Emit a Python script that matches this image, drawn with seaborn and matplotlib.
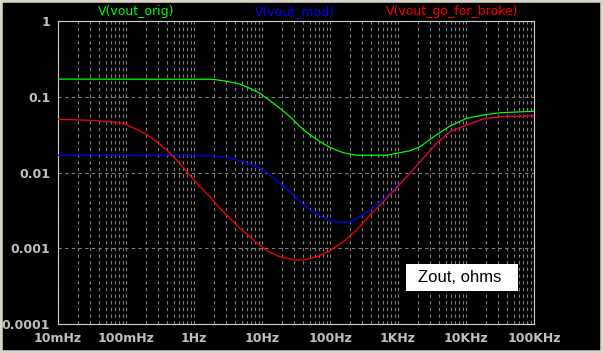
import numpy as np
import pandas as pd
import seaborn as sns
import matplotlib
matplotlib.use("Agg")
from matplotlib import pyplot as plt
from matplotlib import patches
from matplotlib.ticker import LogLocator, FixedLocator, FixedFormatter, NullFormatter

# values (frequency in Hz, impedance in ohms)
freq_orig = [0.01, 1.9, 3.03, 4.75, 6.67, 9.35, 13.1, 18.4, 25.8, 36.2, 50.8, 71.3, 100, 157, 247,
             682, 957, 1500, 2110, 3300, 5820, 10240, 17950, 31600, 100000]
zout_orig = [0.171, 0.170, 0.160, 0.147, 0.129, 0.111, 0.0887, 0.0704, 0.0546, 0.0403, 0.0313, 0.0255,
             0.0214, 0.0182, 0.0169, 0.0169, 0.0179, 0.0194, 0.0219, 0.0294, 0.0411, 0.0519, 0.0574,
             0.0615, 0.0643]

freq_mod = [0.01, 1.9, 3.03, 4.25, 6.67, 9.35, 13.1, 18.4, 25.8, 36.2, 50.8, 71.3, 100, 140, 197, 276,
            388, 608, 957, 1500, 2355, 3700, 5820, 10240, 17800, 31600, 100000]
zout_mod = [0.0169, 0.0166, 0.0159, 0.0146, 0.0130, 0.0114, 0.00927, 0.0072, 0.00557, 0.00411, 0.0032,
            0.00267, 0.00229, 0.0022, 0.00222, 0.00261, 0.0032, 0.00443, 0.0065, 0.00985, 0.0155,
            0.0244, 0.0347, 0.0425, 0.0510, 0.0550, 0.0566]

freq_gfb = [0.01, 0.0296, 0.0617, 0.091, 0.1435, 0.201, 0.282, 0.397, 0.557, 0.782, 1.097, 1.72, 2.41,
            3.03, 4.75, 7.45, 11.7, 18.4, 30.6, 40.5, 63.7, 100, 157, 247, 388, 608, 957, 1500, 2355,
            3700, 5820, 10240, 17800, 31600, 100000]
zout_gfb = [0.0504, 0.0489, 0.0464, 0.0447, 0.0372, 0.0319, 0.0255, 0.0198, 0.0146, 0.01025, 0.0072,
            0.00479, 0.00336, 0.00275, 0.00183, 0.00129, 0.00093, 0.00077, 0.0007, 0.0007, 0.00077,
            0.00093, 0.00122, 0.00174, 0.00275, 0.00411, 0.0063, 0.00975, 0.0154, 0.0243, 0.0346,
            0.0424, 0.0508, 0.0546, 0.0562]

series = ['V(vout_orig)', 'V(vout_mod)', 'V(vout_go_for_broke)']
colors = ['#00ff00', '#0000ff', '#ff0000']

x_ticks = [0.01, 0.1, 1, 10, 100, 1000, 10000, 100000]
x_labels = ['10mHz', '100mHz', '1Hz', '10Hz', '100Hz', '1KHz', '10KHz', '100KHz']
y_ticks = [0.0001, 0.001, 0.01, 0.1, 1]
y_labels = ['0.0001', '0.001', '0.01', '0.1', '1']

df = pd.concat([
    pd.DataFrame({'freq': freq_orig, 'zout': zout_orig, 'trace': series[0]}),
    pd.DataFrame({'freq': freq_mod, 'zout': zout_mod, 'trace': series[1]}),
    pd.DataFrame({'freq': freq_gfb, 'zout': zout_gfb, 'trace': series[2]}),
])

sns.set_style("dark")
grey = '#c0c0c0'

fig = plt.figure(figsize=(6.03, 3.53), dpi=100)
fig.patch.set_facecolor('black')
ax = fig.add_axes([58 / 603, 29 / 353, 476 / 603, 303 / 353])
ax.set_facecolor('black')

sns.lineplot(data=df, x='freq', y='zout', hue='trace', hue_order=series,
             palette=dict(zip(series, colors)), estimator=None, sort=True,
             linewidth=0.9, legend=False, ax=ax, zorder=3)

ax.set_xscale('log')
ax.set_yscale('log')
ax.set_xlim(0.01, 100000)
ax.set_ylim(0.0001, 1)

ax.xaxis.set_major_locator(FixedLocator(x_ticks))
ax.xaxis.set_major_formatter(FixedFormatter(x_labels))
ax.xaxis.set_minor_locator(LogLocator(base=10, subs=np.arange(2, 10), numticks=20))
ax.xaxis.set_minor_formatter(NullFormatter())
ax.yaxis.set_major_locator(FixedLocator(y_ticks))
ax.yaxis.set_major_formatter(FixedFormatter(y_labels))
ax.yaxis.set_minor_locator(LogLocator(base=10, subs=np.arange(2, 10), numticks=20))
ax.yaxis.set_minor_formatter(NullFormatter())

ax.grid(False)
dash = (0, (3, 3))
ax.grid(True, which='both', axis='x', color='#808080', linestyle=dash, linewidth=0.8, zorder=1)
ax.grid(True, which='major', axis='y', color='#808080', linestyle=dash, linewidth=0.8, zorder=1)

for s in ax.spines.values():
    s.set_visible(True)
    s.set_color('#d0d0d0')
    s.set_linewidth(0.8)

ax.tick_params(which='major', direction='out', length=4, width=0.8, color=grey,
               labelcolor=grey, labelsize=9, pad=1.5)
ax.tick_params(which='minor', direction='inout', length=3, width=0.7, color=grey)
for lab in ax.get_xticklabels() + ax.get_yticklabels():
    lab.set_fontweight('bold')
ax.set_xlabel('')
ax.set_ylabel('')

# trace names across the top
for name, c, xp in zip(series, colors, [136, 295, 452]):
    fig.text(xp / 603, 1 - 12 / 353, name, color=c, fontsize=9, ha='center', va='center')

# white note box
fig.patches.append(patches.Rectangle((406 / 603, 1 - 291 / 353), 112 / 603, 27 / 353,
                                     transform=fig.transFigure, facecolor='white',
                                     edgecolor='none', zorder=5))
fig.text(460 / 603, 1 - 277 / 353, 'Zout, ohms', color='black', fontsize=12,
         family='Liberation Sans', ha='center', va='center', zorder=6)

# window frame
fig.patches.append(patches.Rectangle((0, 0), 1, 1, transform=fig.transFigure, fill=False,
                                     edgecolor='#d8d4c8', linewidth=4, zorder=10))

fig.savefig('out.png', dpi=100, facecolor=fig.get_facecolor())
